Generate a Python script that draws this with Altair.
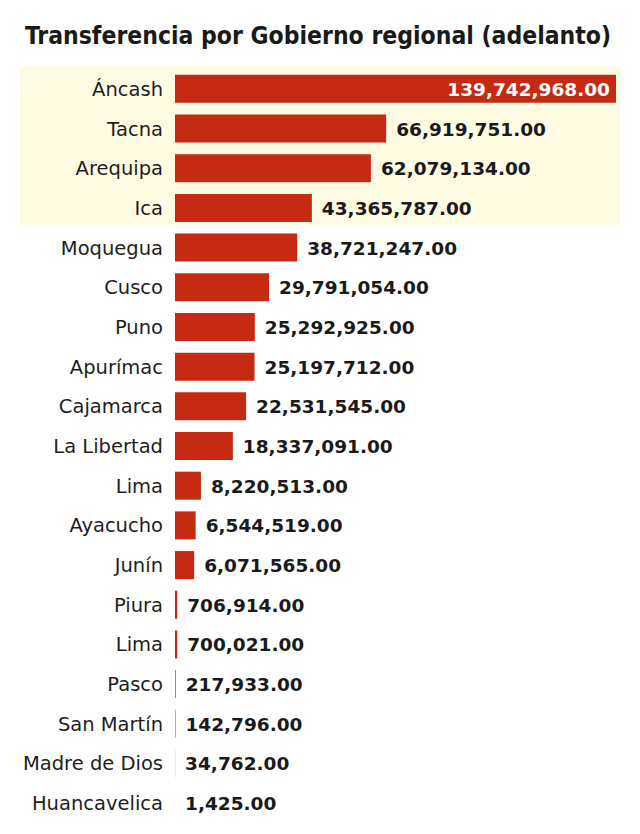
import altair as alt
import pandas as pd

regions = ["Áncash", "Tacna", "Arequipa", "Ica", "Moquegua", "Cusco", "Puno",
           "Apurímac", "Cajamarca", "La Libertad", "Lima", "Ayacucho", "Junín",
           "Piura", "Lima ", "Pasco", "San Martín", "Madre de Dios", "Huancavelica"]
values = [139742968.00, 66919751.00, 62079134.00, 43365787.00, 38721247.00,
          29791054.00, 25292925.00, 25197712.00, 22531545.00, 18337091.00,
          8220513.00, 6544519.00, 6071565.00, 706914.00, 700021.00,
          217933.00, 142796.00, 34762.00, 1425.00]
highlighted = ["Áncash", "Tacna", "Arequipa", "Ica"]
title_text = "Transferencia por Gobierno regional (adelanto)"

df = pd.DataFrame({"region": regions, "value": values})
df["label"] = [f"{v:,.2f}" for v in values]
df["inside"] = [i == 0 for i in range(len(values))]
hl = pd.DataFrame({"region": highlighted})

W, H = 441, 754
BAR = "#C42B12"

yscale = alt.Scale(domain=regions, paddingInner=0, paddingOuter=0)
xscale = alt.Scale(domain=[0, max(values)], nice=False, zero=True)
Y = alt.Y("region:N", scale=yscale, axis=None, sort=regions)

band = alt.Chart(hl).mark_rect(color="#FEFBE3", yOffset=-3).encode(
    y=Y, x=alt.value(-155), x2=alt.value(445)
)

bars = alt.Chart(df).mark_bar(height=28, color=BAR).encode(
    y=Y, x=alt.X("value:Q", scale=xscale, axis=None)
)

cats = alt.Chart(df).mark_text(
    align="right", baseline="middle", font="DejaVu Sans", fontSize=19.5,
    color="#1e1e1e", dy=1
).encode(y=Y, x=alt.value(-12), text="region:N")

out_labels = alt.Chart(df[~df["inside"]]).mark_text(
    align="left", baseline="middle", font="DejaVu Sans", fontWeight="bold",
    fontSize=18.5, color="#1a1a1a", dx=10, dy=1
).encode(y=Y, x=alt.X("value:Q", scale=xscale), text="label:N")

in_labels = alt.Chart(df[df["inside"]]).mark_text(
    align="right", baseline="middle", font="DejaVu Sans", fontWeight="bold",
    fontSize=18.5, color="white", dx=-6, dy=1
).encode(y=Y, x=alt.X("value:Q", scale=xscale), text="label:N")

title = alt.Chart(pd.DataFrame({"t": [title_text]})).mark_text(
    align="center", baseline="alphabetic", font="DejaVu Sans Condensed",
    fontWeight="bold", fontSize=24.5, color="#1a1a1a"
).encode(x=alt.value(143), y=alt.value(-25), text="t:N")

chart = alt.layer(band, bars, cats, out_labels, in_labels, title).properties(
    width=W, height=H,
    autosize=alt.AutoSizeParams(type="none"),
    padding={"left": 167, "top": 61, "right": 16, "bottom": 0},
    background="white",
).configure_view(stroke=None)

chart.save("out.html", embed_options={"renderer": "svg", "actions": False})
